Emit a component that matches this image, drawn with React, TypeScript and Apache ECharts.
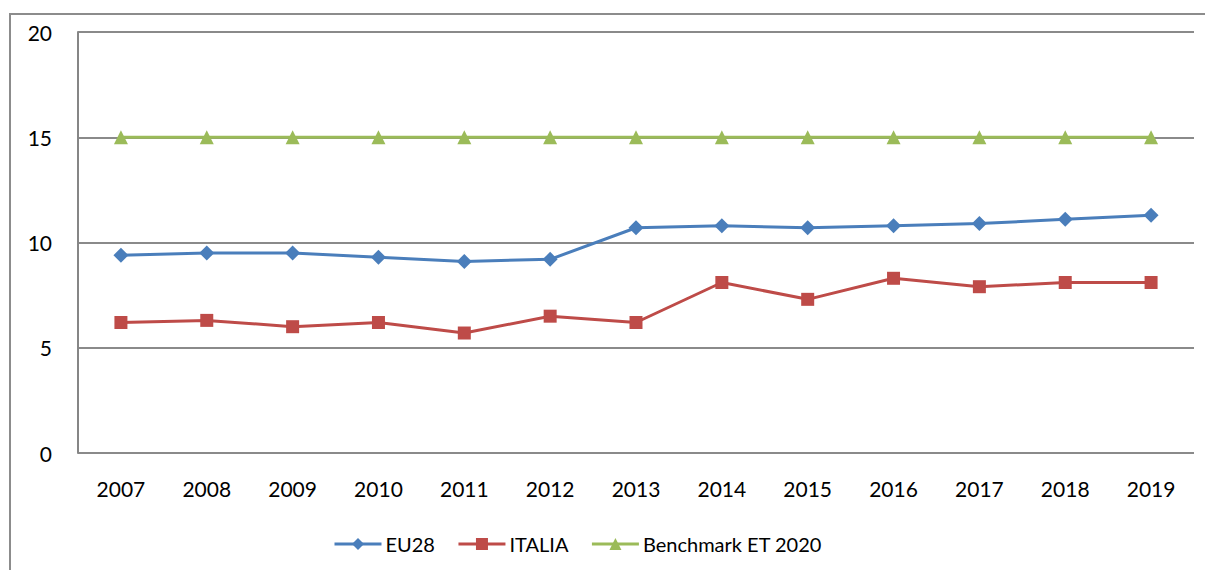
import React, { useEffect, useRef } from "react";
import * as echarts from "echarts";

const years = ["2007","2008","2009","2010","2011","2012","2013","2014","2015","2016","2017","2018","2019"];
const eu28 = [9.4, 9.5, 9.5, 9.3, 9.1, 9.2, 10.7, 10.8, 10.7, 10.8, 10.9, 11.1, 11.3];
const italia = [6.2, 6.3, 6.0, 6.2, 5.7, 6.5, 6.2, 8.1, 7.3, 8.3, 7.9, 8.1, 8.1];
const benchmark = [15, 15, 15, 15, 15, 15, 15, 15, 15, 15, 15, 15, 15];

const FONT = "Lato";

export default function App() {
  const ref = useRef<HTMLDivElement>(null);
  useEffect(() => {
    if (!ref.current) return;
    const chart = echarts.init(ref.current, null, { renderer: "svg" });
    const lineSeries = (name: string, data: number[], color: string, symbol: string, size: number) => ({
      name,
      type: "line",
      data,
      symbol,
      symbolSize: size,
      lineStyle: { color, width: 3 },
      itemStyle: { color },
      z: 3,
    });
    chart.setOption({
      animation: false,
      backgroundColor: "#fff",
      textStyle: { fontFamily: FONT },
      graphic: [
        {
          type: "rect",
          shape: { x: 10, y: 14, width: 1210, height: 600 },
          style: { fill: "none", stroke: "#8c8c8c", lineWidth: 2 },
          z: 0,
        },
      ],
      grid: { left: 78, right: 11, top: 32, bottom: 117 },
      xAxis: {
        type: "category",
        data: years,
        boundaryGap: true,
        axisLine: { show: false },
        axisTick: { show: false },
        axisLabel: { color: "#000", fontSize: 21, fontFamily: FONT, margin: 25 },
      },
      yAxis: {
        type: "value",
        min: 0,
        max: 20,
        interval: 5,
        axisLine: { show: true, lineStyle: { color: "#868686", width: 2 } },
        axisTick: { show: false },
        axisLabel: { color: "#000", fontSize: 21, fontFamily: FONT, margin: 26 },
        splitLine: { show: true, lineStyle: { color: "#8a8a8a", width: 2 } },
      },
      legend: {
        left: 328,
        top: 529,
        itemWidth: 47,
        itemHeight: 15,
        itemGap: 22,
        lineStyle: { width: 3 },
        textStyle: { color: "#000", fontSize: 20, fontFamily: FONT, padding: [0, 0, 0, -1] },
        data: ["EU28", "ITALIA", "Benchmark ET 2020"],
      },
      series: [
        lineSeries("EU28", eu28, "#4a7ebb", "diamond", 15),
        lineSeries("ITALIA", italia, "#be4b48", "rect", 13),
        lineSeries("Benchmark ET 2020", benchmark, "#9bbb59", "triangle", 14),
      ],
    });
    return () => chart.dispose();
  }, []);
  return (
    <div
      ref={ref}
      style={{ position: "fixed", left: 0, top: 0, width: 1205, height: 570 }}
    />
  );
}
